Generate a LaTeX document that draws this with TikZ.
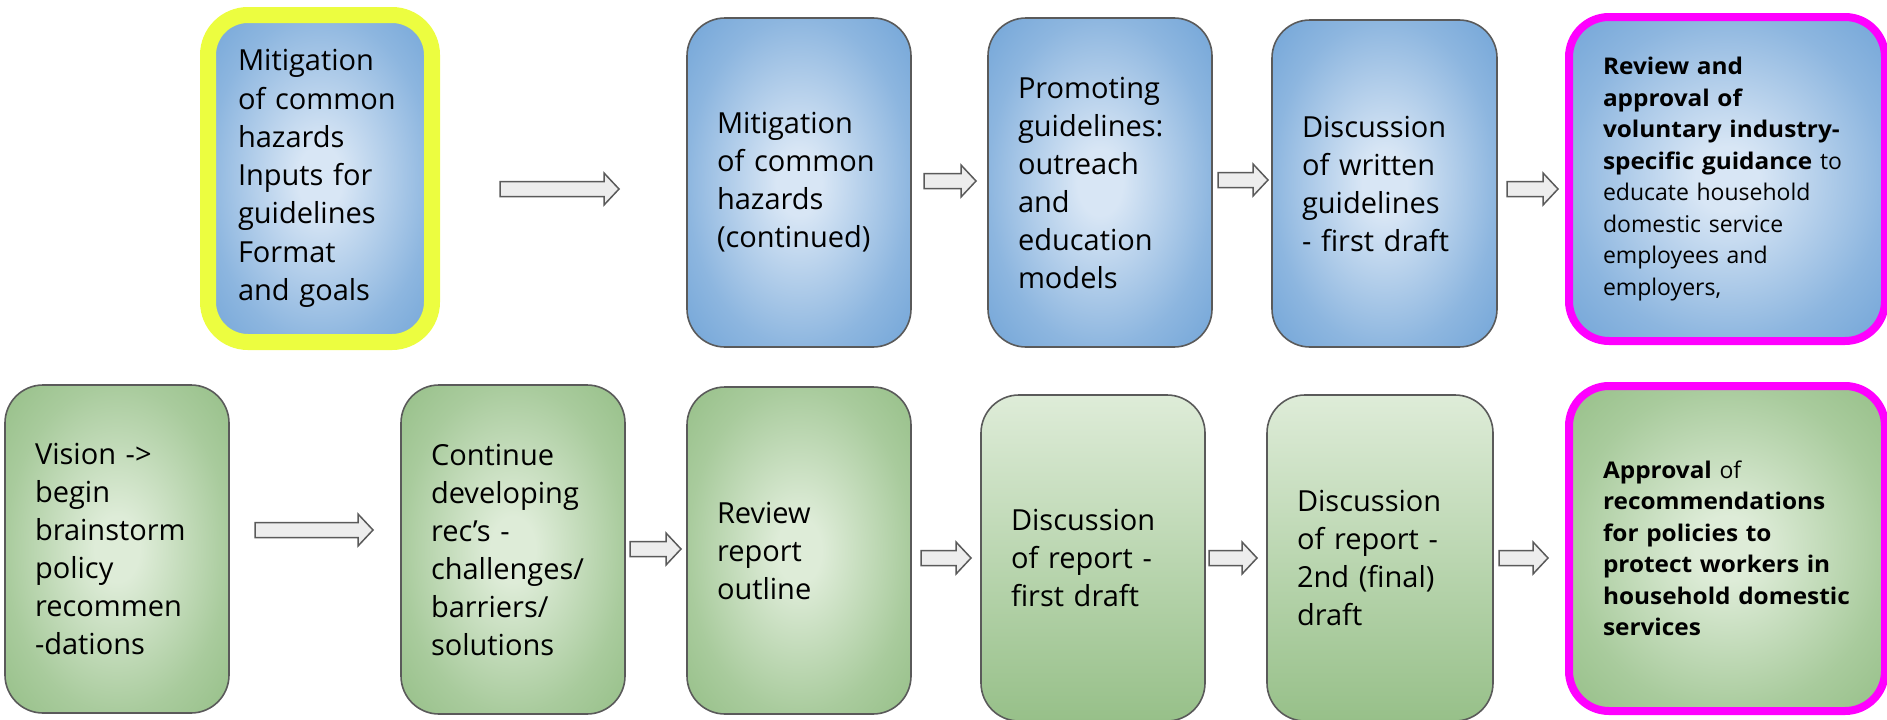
\documentclass[tikz,border=0pt]{standalone}
\usepackage{fontspec}
\setmainfont{Open Sans}[BoldFeatures={FakeStretch=1.06}]
\definecolor{blueout}{RGB}{116,166,216}
\definecolor{bluein}{RGB}{216,230,245}
\definecolor{greenout}{RGB}{151,192,137}
\definecolor{greenin}{RGB}{222,236,216}
\definecolor{bordergray}{RGB}{90,90,90}
\definecolor{hiyellow}{RGB}{236,253,64}
\definecolor{himagenta}{RGB}{255,0,255}
\definecolor{arrowfill}{RGB}{237,237,237}
\pgfdeclareradialshading{blueglow}{\pgfpoint{0bp}{0bp}}{color(0bp)=(bluein); color(5bp)=(bluein); color(25bp)=(blueout!75!bluein); color(35bp)=(blueout); color(50bp)=(blueout)}
\pgfdeclareradialshading{greenglow}{\pgfpoint{0bp}{0bp}}{color(0bp)=(greenin); color(5bp)=(greenin); color(25bp)=(greenout!75!greenin); color(35bp)=(greenout); color(50bp)=(greenout)}
\tikzset{
  box/.style={rounded corners=38pt, draw=bordergray, line width=1.6pt, align=left,
    inner xsep=30pt, inner ysep=0pt, text=black, minimum width=224pt,
    text width=164pt, font=\fontsize{29}{38}\selectfont},
  bluebox/.style={box, shade, shading=blueglow},
  greenbox/.style={box, shade, shading=greenglow},
  fadebox/.style={box, top color=greenin, bottom color=greenout},
  yellowring/.style={draw=hiyellow, line width=16pt, rounded corners=40pt},
  magentaring/.style={draw=himagenta, line width=8pt, rounded corners=40pt,
    minimum width=316pt, inner xsep=34pt, text width=248pt,
    font=\fontsize{23}{31.5}\selectfont},
  pics/barrow/.style={code={
    \draw[bordergray, line width=1.5pt, fill=arrowfill, line join=miter]
      (0,-7.5) -- (#1-15,-7.5) -- (#1-15,-16) -- (#1,0) -- (#1-15,16)
      -- (#1-15,7.5) -- (0,7.5) -- cycle;}}
}
\begin{document}
\begin{tikzpicture}[x=1pt, y=-1pt]
\useasboundingbox (0,0) rectangle (1887,720);
% top row
\node[bluebox, yellowring, minimum height=327pt, font=\fontsize{29}{38.3}\selectfont] (a) at (320,178.5)
  {Mitigation\\of common\\hazards\\Inputs for\\guidelines\\Format\\and goals};
\node[bluebox, minimum height=329pt] (b) at (799,182.5)
  {Mitigation\\of common\\hazards\\(continued)};
\node[bluebox, minimum height=329pt] (c) at (1100,182.5)
  {Promoting\\guidelines:\\outreach\\and\\education\\models};
\node[bluebox, minimum height=327pt, minimum width=225pt, text width=165pt] (d) at (1384.5,183.5)
  {Discussion\\of written\\guidelines\\- first draft};
\node[bluebox, magentaring, minimum height=324pt] (e) at (1727,179)
  {\mbox{\textbf{Review and}}\\\mbox{\textbf{approval of}}\\\mbox{\textbf{voluntary industry-}}\\\mbox{\textbf{specific guidance} to}\\\mbox{educate household}\\\mbox{domestic service}\\\mbox{employees and}\\\mbox{employers,}};
% bottom row
\node[greenbox, minimum height=328pt] (f) at (117,549)
  {Vision ->\\begin\\brainstorm\\policy\\recommen\\-dations};
\node[greenbox, minimum height=329pt] (g) at (513,549.5)
  {Continue\\developing\\rec’s -\\challenges/\\barriers/\\solutions};
\node[greenbox, minimum height=327pt] (h) at (799,550.5)
  {Review\\report\\outline};
\node[fadebox, minimum height=326pt] (i) at (1093,558)
  {Discussion\\of report -\\first draft};
\node[fadebox, minimum height=326pt, minimum width=226pt, text width=166pt] (j) at (1380,558)
  {Discussion\\of report -\\2nd (final)\\draft};
\node[greenbox, magentaring, minimum height=325pt] (k) at (1727,548.5)
  {\mbox{\textbf{Approval} of}\\\mbox{\textbf{recommendations}}\\\mbox{\textbf{for policies to}}\\\mbox{\textbf{protect workers in}}\\\mbox{\textbf{household domestic}}\\\mbox{\textbf{services}}};
% block arrows
\pic at (500,189) {barrow=119};
\pic at (924,181) {barrow=52};
\pic at (1218,180) {barrow=50};
\pic at (1507,189) {barrow=51};
\pic at (255,530) {barrow=118};
\pic at (630,549) {barrow=51};
\pic at (921,558) {barrow=50};
\pic at (1209,558) {barrow=48};
\pic at (1499,558) {barrow=49};
\end{tikzpicture}
\end{document}
